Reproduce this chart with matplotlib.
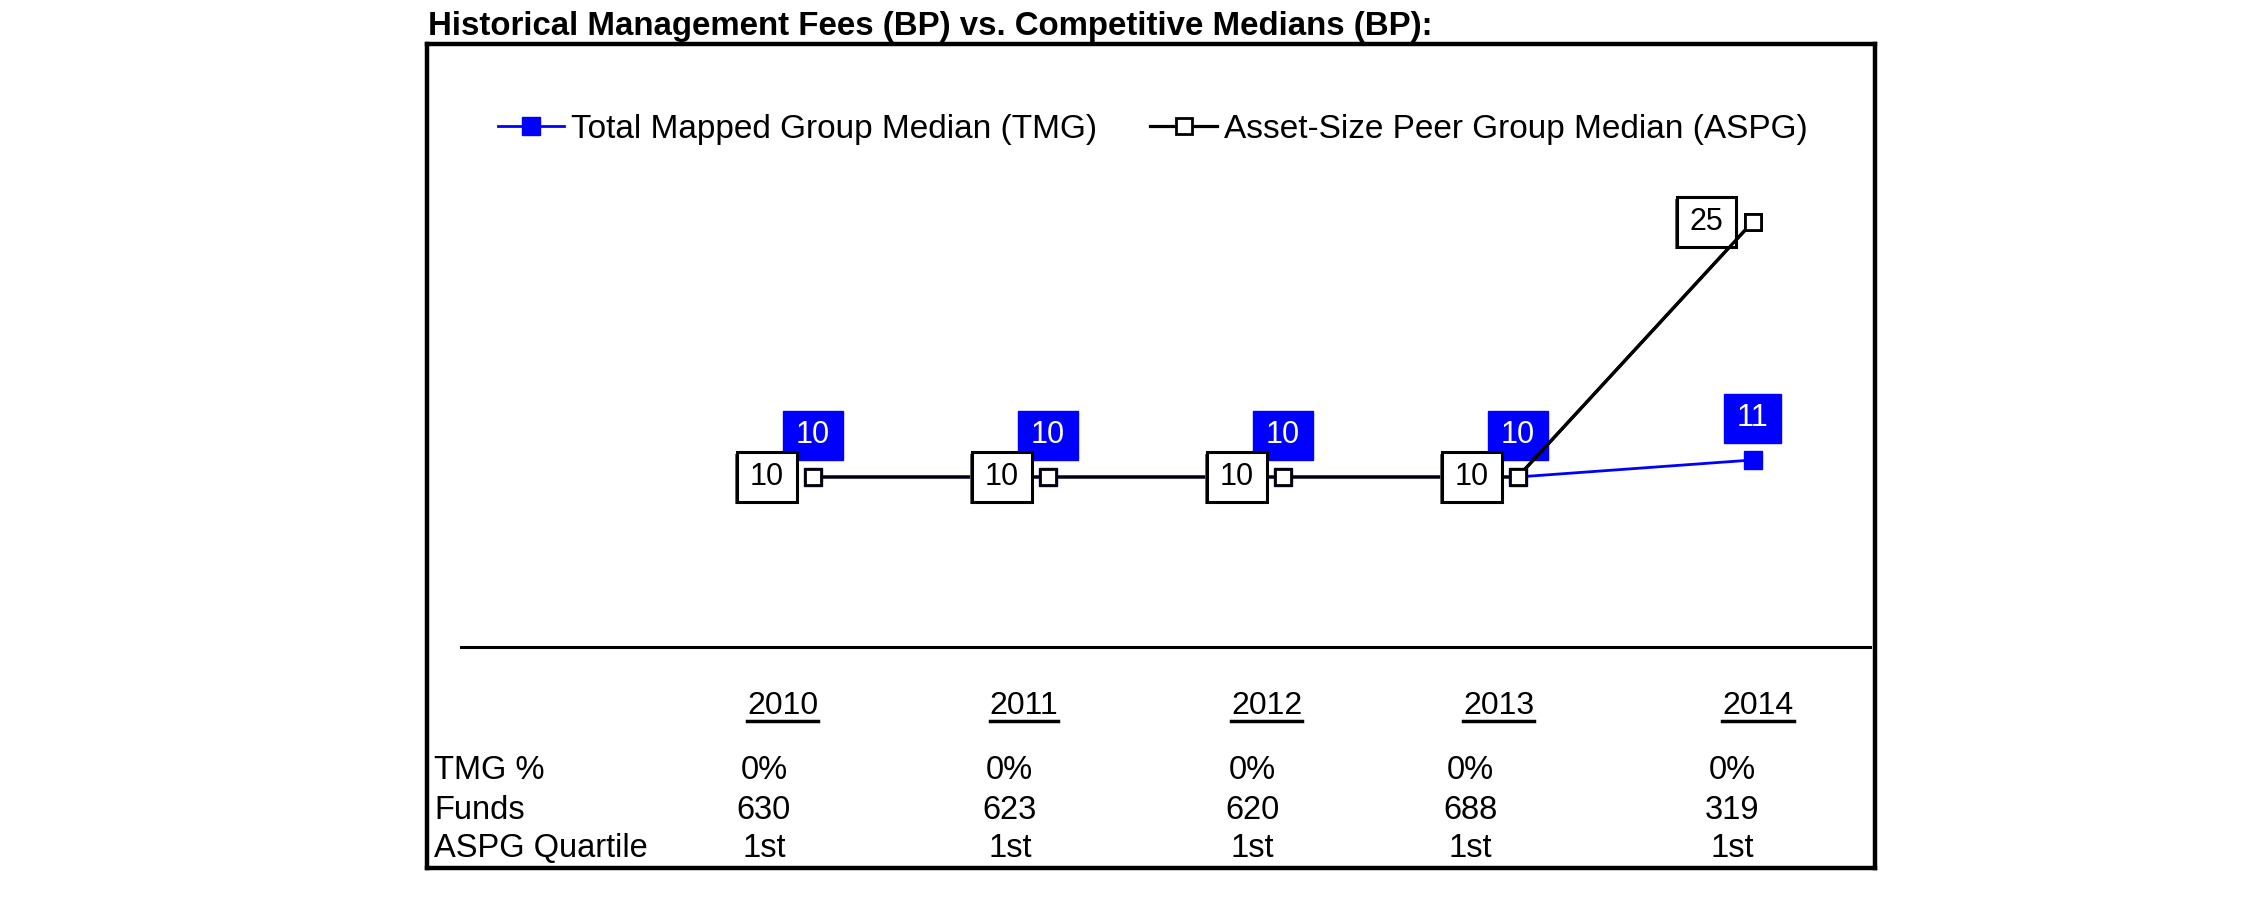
# Historical management fees vs. competitive medians, with the small
# summary table underneath the plot area.

import numpy as np
import matplotlib
matplotlib.use('Agg')
import matplotlib.pyplot as plt
import matplotlib.patheffects as pe
from matplotlib.path import Path
from matplotlib.lines import Line2D
from matplotlib.transforms import IdentityTransform

plt.rcParams['font.family'] = ['Liberation Sans', 'DejaVu Sans']

# data
years = ['2010', '2011', '2012', '2013', '2014']
tmg_median = [10, 10, 10, 10, 11]
aspg_median = [10, 10, 10, 10, 25]
tmg_pct = ['0%', '0%', '0%', '0%', '0%']
funds = ['630', '623', '620', '688', '319']
aspg_quartile = ['1st', '1st', '1st', '1st', '1st']

title = 'Historical Management Fees (BP) vs. Competitive Medians (BP):'
row_names = ['TMG %', 'Funds', 'ASPG Quartile']

# layout of the table columns (offset from each point, in x units)
year_shift = [-0.128, -0.102, -0.068, -0.081, 0.023]
value_shift = [-0.209, -0.162, -0.128, -0.200, -0.087]

BLUE = '#0000ff'


# box a bit wider than tall, like the labels in the original
def label_box(x0, y0, width, height, mutation_size):
    px = mutation_size * 0.42
    py = mutation_size * 0.32
    x0, y0 = x0 - px, y0 - py
    x1, y1 = x0 + width + 2 * px, y0 + height + 2 * py
    return Path([(x0, y0), (x1, y0), (x1, y1), (x0, y1), (x0, y0)], closed=True)


fig = plt.figure(figsize=(22.51, 8.98), dpi=100)
ax = fig.add_axes([0.18969, 0.03341, 0.64327, 0.91759])
ax.set_xlim(-1.643, 4.521)
ax.set_ylim(-13.0, 35.47)
ax.set_xticks([])
ax.set_yticks([])
for s in ax.spines.values():
    s.set_linewidth(3.2)

x = np.arange(len(years))

# baseline of the plot
ax.plot([-1.5, 4.5], [0, 0], color='black', lw=2.2, zorder=1)

tmg_line, = ax.plot(x, tmg_median, color=BLUE, lw=2.0, marker='s', ms=13,
                    mfc=BLUE, mec=BLUE, zorder=2,
                    label='Total Mapped Group Median (TMG)')
aspg_line, = ax.plot(x, aspg_median, color='black', lw=2.3, marker='s', ms=12,
                     mfc='white', mec='black', mew=2, zorder=4,
                     label='Asset-Size Peer Group Median (ASPG)')
# last segment runs over the label corners, markers stay on top
ax.plot(x[-2:], aspg_median[-2:], color='black', lw=2.3, zorder=6)
ax.plot(x[-2:], aspg_median[-2:], ls='none', marker='s', ms=12,
        mfc='white', mec='black', mew=2, zorder=7)

# value labels
for xi, v in zip(x, tmg_median):
    ax.annotate(str(v), (xi, v), xytext=(0, 29.9), textcoords='offset points',
                ha='center', va='center', fontsize=22, color='white', zorder=3,
                annotation_clip=False,
                bbox=dict(boxstyle=label_box, fc=BLUE, ec=BLUE, lw=1))

for xi, v in zip(x, aspg_median):
    t = ax.annotate(str(v), (xi, v), xytext=(-33.1, 0), textcoords='offset points',
                    ha='center', va='center', fontsize=22, color='black', zorder=5,
                    annotation_clip=False,
                    bbox=dict(boxstyle=label_box, fc='white', ec='black', lw=2.2))
    t.get_bbox_patch().set_path_effects(
        [pe.SimplePatchShadow(offset=(-1.5, -1.5), shadow_rgbFace='0.35', alpha=0.9),
         pe.Normal()])

ax.legend(handles=[tmg_line, aspg_line], loc='center', ncol=2,
          bbox_to_anchor=(0.512, 0.8563), bbox_transform=fig.transFigure,
          frameon=False, fontsize=24, handlelength=2.0, handletextpad=0.2,
          columnspacing=1.6, borderpad=0, borderaxespad=0)

# table under the axis line
year_y = -3.94
row_y = [-7.76, -10.12, -12.35]

year_texts = []
for xi, yr, dx in zip(x, years, year_shift):
    year_texts.append(ax.text(xi + dx, year_y, yr, ha='center', va='baseline',
                              fontsize=23))

for name, yy in zip(row_names, row_y):
    ax.text(-1.613, yy, name, ha='left', va='baseline', fontsize=23.5)

for row, yy in zip([tmg_pct, funds, aspg_quartile], row_y):
    for xi, val, dx in zip(x, row, value_shift):
        ax.text(xi + dx, yy, val, ha='center', va='baseline', fontsize=23.5)

fig.text(428 / 2251, 1 - 35 / 898, title, fontsize=23.8, fontweight='bold',
         ha='left', va='baseline')

# underline the years
fig.canvas.draw()
renderer = fig.canvas.get_renderer()
y_line = ax.transData.transform((0, year_y))[1] - 7
for t in year_texts:
    bb = t.get_window_extent(renderer)
    fig.add_artist(Line2D([bb.x0, bb.x1], [y_line, y_line], color='black',
                          lw=2.5, transform=IdentityTransform()))

fig.savefig('out.png', dpi=100)
